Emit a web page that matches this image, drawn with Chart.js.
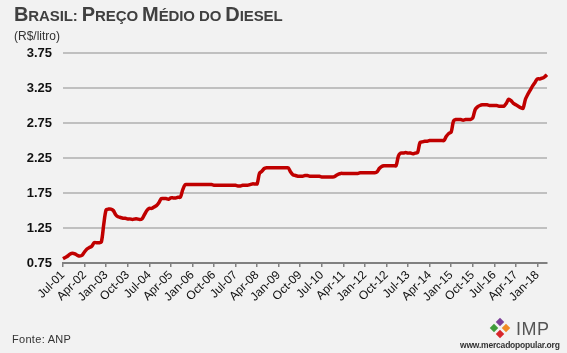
<!DOCTYPE html>
<html>
<head>
<meta charset="utf-8">
<script src="https://cdn.jsdelivr.net/npm/chart.js@4.4.1/dist/chart.umd.min.js"></script>
<style>
  html, body { margin: 0; padding: 0; background: #f2f2f2; }
  #wrap { position: relative; width: 567px; height: 353px; background: #f2f2f2; overflow: hidden;
          font-family: "Liberation Sans", Arial, sans-serif; }
  #c { position: absolute; left: 0; top: 0; }
  .title { position: absolute; left: 14px; top: 3px; font-weight: bold; color: #404040; white-space: nowrap;
           text-transform: uppercase; letter-spacing: -0.1px; }
  .title .b { font-size: 20px; }
  .title .s { font-size: 15px; }
  .unit { position: absolute; left: 14px; top: 29px; font-size: 12px; color: #333; }
  .src { position: absolute; left: 12px; top: 333px; font-size: 11px; color: #333; letter-spacing: 0.3px; }
  .imp { position: absolute; left: 516px; top: 319px; font-size: 18px; color: #555; letter-spacing: 0.5px; }
  .url { position: absolute; left: 460px; top: 340px; font-size: 8.5px; font-weight: bold; color: #333; letter-spacing: -0.2px; }
  .d { position: absolute; width: 6px; height: 6px; transform: rotate(45deg); }
</style>
</head>
<body>
<div id="wrap">
  <canvas id="c" width="567" height="353"></canvas>
  <div class="title"><span class="b">B</span><span class="s">RASIL: </span><span class="b">P</span><span class="s">REÇO </span><span class="b">M</span><span class="s">ÉDIO DO </span><span class="b">D</span><span class="s">IESEL</span></div>
  <div class="unit">(R$/litro)</div>
  <div class="src">Fonte: ANP</div>
  <div class="d" style="left:497px;top:319px;background:#7b3f98"></div>
  <div class="d" style="left:503px;top:325px;background:#f08a24"></div>
  <div class="d" style="left:497px;top:331px;background:#d7262b"></div>
  <div class="d" style="left:491px;top:325px;background:#3f9b3a"></div>
  <div class="imp">IMP</div>
  <div class="url">www.mercadopopular.org</div>
</div>
<script>
  // monthly labels, Jul-01 .. May-18
  const monthNames = ['Jan','Feb','Mar','Apr','May','Jun','Jul','Aug','Sep','Oct','Nov','Dec'];
  const labels = [];
  for (let y = 2001, m = 6; y < 2018 || (y === 2018 && m <= 4); ) {
    labels.push(monthNames[m] + '-' + String(y).slice(2));
    m++;
    if (m > 11) { m = 0; y++; }
  }

  // R$/litro
  const diesel = [
    0.81, 0.83, 0.85, 0.88, 0.89, 0.88, 0.86, 0.85, 0.86, 0.91,
    0.95, 0.97, 0.99, 1.04, 1.04, 1.04, 1.05, 1.30, 1.51, 1.52,
    1.52, 1.50, 1.44, 1.41, 1.40, 1.39, 1.39, 1.38, 1.38, 1.37,
    1.38, 1.38, 1.37, 1.38, 1.44, 1.50, 1.53, 1.53, 1.55, 1.57,
    1.61, 1.67, 1.67, 1.67, 1.66, 1.68, 1.68, 1.68, 1.69, 1.69,
    1.80, 1.87, 1.87, 1.87, 1.87, 1.87, 1.87, 1.87, 1.87, 1.87,
    1.87, 1.87, 1.87, 1.86, 1.86, 1.86, 1.86, 1.86, 1.86, 1.86,
    1.86, 1.86, 1.86, 1.85, 1.85, 1.86, 1.86, 1.86, 1.87, 1.88,
    1.88, 1.88, 2.03, 2.06, 2.10, 2.11, 2.11, 2.11, 2.11, 2.11,
    2.11, 2.11, 2.11, 2.11, 2.11, 2.05, 2.01, 2.00, 1.99, 1.99,
    1.99, 2.00, 2.00, 1.99, 1.99, 1.99, 1.99, 1.99, 1.98, 1.98,
    1.98, 1.98, 1.98, 1.98, 2.00, 2.02, 2.03, 2.03, 2.03, 2.03,
    2.03, 2.03, 2.03, 2.03, 2.04, 2.04, 2.04, 2.04, 2.04, 2.04,
    2.04, 2.05, 2.10, 2.13, 2.14, 2.14, 2.14, 2.14, 2.14, 2.14,
    2.28, 2.32, 2.32, 2.33, 2.32, 2.32, 2.31, 2.32, 2.33, 2.47,
    2.48, 2.49, 2.49, 2.50, 2.50, 2.50, 2.50, 2.50, 2.50, 2.50,
    2.56, 2.60, 2.62, 2.78, 2.80, 2.80, 2.80, 2.79, 2.80, 2.80,
    2.80, 2.82, 2.94, 2.98, 3.00, 3.01, 3.01, 3.01, 3.00, 3.00,
    3.00, 3.00, 2.99, 2.99, 2.99, 3.03, 3.09, 3.07, 3.03, 3.01,
    2.99, 2.97, 2.96, 3.09, 3.16, 3.22, 3.28, 3.33, 3.38, 3.38,
    3.39, 3.41, 3.44
  ];

  const yTicks = [0.75, 1.25, 1.75, 2.25, 2.75, 3.25, 3.75];
  const labelEvery = 9;

  new Chart(document.getElementById('c'), {
    type: 'line',
    data: {
      labels: labels,
      datasets: [{
        data: diesel,
        borderColor: '#c00000',
        borderWidth: 3.5,
        pointRadius: 0,
        tension: 0.3,
        fill: false
      }]
    },
    options: {
      responsive: false,
      animation: false,
      events: [],
      layout: { padding: { top: 53, right: 20, left: 0, bottom: 0 } },
      plugins: { legend: { display: false }, tooltip: { enabled: false } },
      scales: {
        x: {
          type: 'category',
          offset: false,
          afterFit: s => { s.height = 90; },
          border: { display: true, color: '#808080', width: 2 },
          grid: {
            drawOnChartArea: false,
            drawTicks: true,
            tickLength: 4,
            lineWidth: 1.5,
            color: ctx => (ctx.index % labelEvery === 0 ? '#808080' : 'rgba(0,0,0,0)')
          },
          ticks: {
            autoSkip: false,
            minRotation: 45,
            maxRotation: 45,
            padding: 1,
            color: '#111',
            font: { family: '"Liberation Sans", Arial, sans-serif', size: 12 },
            callback: function (v, i) { return i % labelEvery === 0 ? labels[i] : ''; }
          }
        },
        y: {
          min: yTicks[0],
          max: yTicks[yTicks.length - 1],
          afterFit: s => { s.width = 63; },
          afterBuildTicks: s => { s.ticks = yTicks.map(v => ({ value: v })); },
          border: { display: false },
          grid: {
            drawTicks: false,
            lineWidth: 2,
            color: ctx => (ctx.tick && ctx.tick.value === yTicks[0] ? 'rgba(0,0,0,0)' : '#c0c0c0')
          },
          ticks: {
            padding: 11,
            color: '#111',
            font: { family: '"Liberation Sans", Arial, sans-serif', size: 13, weight: 'bold' },
            callback: v => v.toFixed(2)
          }
        }
      }
    }
  });
</script>
</body>
</html>
